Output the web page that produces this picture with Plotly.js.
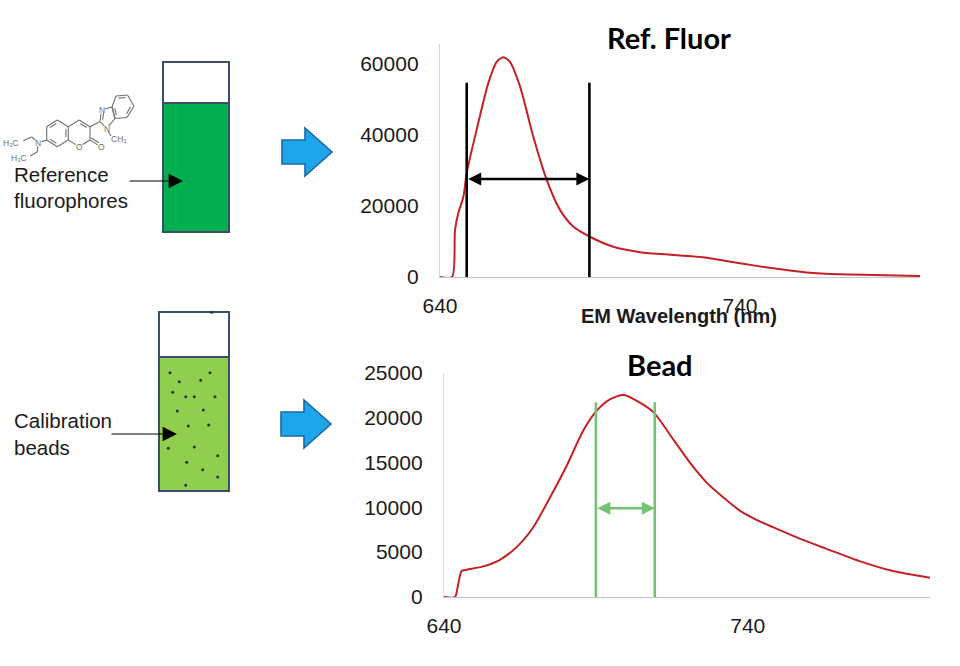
<!DOCTYPE html>
<html>
<head>
<meta charset="utf-8">
<script src="https://cdn.plot.ly/plotly-3.0.1.min.js"></script>
<style>
  html, body { margin: 0; padding: 0; background: #fff; }
  #chart { width: 960px; height: 666px; }
</style>
</head>
<body>
<div id="chart"></div>
<script>
// spectra (nm, counts)
const refWavelength = [640, 644, 645, 646.1, 647.8, 648.9, 652.2, 656.1, 658.9, 661.1, 663.3, 666.7, 671.1, 675.6, 680, 684.4, 689.8, 697.8, 706.7, 717.8, 728.9, 740, 751.1, 762.2, 773.3, 784.4, 800];
const refIntensity = [0, 0, 13200, 18000, 22600, 29300, 41400, 54600, 60600, 61900, 60600, 53600, 39500, 27300, 18900, 14200, 11400, 8500, 7000, 6200, 5450, 3850, 2450, 1300, 750, 560, 280];

const beadWavelength = [640, 643.6, 644.7, 645.8, 647.5, 652.9, 658.4, 663.9, 669.4, 674.9, 680.4, 685.8, 690.2, 694.6, 699.2, 704.5, 709.1, 715.4, 720.9, 726.4, 731.9, 737.4, 742.9, 748.3, 757.1, 765.9, 776.8, 787.8, 800];
const beadIntensity = [0, 0, 1490, 2890, 3040, 3410, 4150, 5560, 7780, 11100, 14630, 18520, 20740, 22040, 22520, 21670, 20550, 17600, 15000, 12780, 11110, 9630, 8600, 7780, 6500, 5370, 4000, 2890, 2150];

// width markers (nm) and where they sit (counts)
const refBand = [648.9, 689.8];
const refBandTop = 54700;
const refArrowAt = 27600;
const beadBand = [690, 709.4];
const beadBandTop = 21700;
const beadArrowAt = 9900;

// ticks
const xTicks = [640, 740];
const refTicks = [0, 20000, 40000, 60000];
const beadTicks = [0, 5000, 10000, 15000, 20000, 25000];

const chartTitles = ['Ref. Fluor', 'Bead'];
const xLabel = 'EM Wavelength (nm)';
const sideLabels = ['Reference', 'fluorophores', 'Calibration', 'beads'];

const W = 960, H = 666;
const px = v => v / W;
const py = v => 1 - v / H;

const RED = '#c42126';
const tickFont = { family: 'Liberation Sans, Arial, sans-serif', size: 21, color: '#1a1a1a' };

const traces = [
  {
    x: refWavelength, y: refIntensity, xaxis: 'x', yaxis: 'y',
    type: 'scatter', mode: 'lines',
    line: { color: RED, width: 2, shape: 'spline', smoothing: 0.7 },
    hoverinfo: 'skip'
  },
  {
    x: beadWavelength, y: beadIntensity, xaxis: 'x2', yaxis: 'y2',
    type: 'scatter', mode: 'lines',
    line: { color: RED, width: 2, shape: 'spline', smoothing: 0.7 },
    hoverinfo: 'skip'
  }
];

function xAxis(domain, anchor) {
  return {
    domain: domain, anchor: anchor, range: [640, 800],
    tickvals: xTicks, ticks: '', ticklabelstandoff: 10,
    showline: true, linecolor: '#c4c4c4', linewidth: 1.2,
    showgrid: false, zeroline: false, tickfont: tickFont, fixedrange: true
  };
}
function yAxis(domain, anchor, range, vals) {
  return {
    domain: domain, anchor: anchor, range: range,
    tickvals: vals, tickformat: 'd', ticks: '', ticklabelstandoff: 16,
    showline: true, linecolor: '#d6d6d6', linewidth: 1.2,
    showgrid: false, zeroline: false, tickfont: tickFont, fixedrange: true
  };
}

const shapes = [];
const annotations = [];

// band lines on the spectra
refBand.forEach(v => shapes.push({
  type: 'line', xref: 'x', yref: 'y', x0: v, x1: v, y0: 0, y1: refBandTop,
  line: { color: '#000', width: 2.6 }
}));
beadBand.forEach(v => shapes.push({
  type: 'line', xref: 'x2', yref: 'y2', x0: v, x1: v, y0: 0, y1: beadBandTop,
  line: { color: '#74c274', width: 2.6 }
}));
annotations.push({
  xref: 'x', yref: 'y', axref: 'x', ayref: 'y',
  x: refBand[1], y: refArrowAt, ax: refBand[0], ay: refArrowAt,
  text: '', showarrow: true, arrowside: 'end+start', arrowhead: 2,
  arrowsize: 1, arrowwidth: 2.6, arrowcolor: '#000'
});
annotations.push({
  xref: 'x2', yref: 'y2', axref: 'x2', ayref: 'y2',
  x: beadBand[1], y: beadArrowAt, ax: beadBand[0], ay: beadArrowAt,
  text: '', showarrow: true, arrowside: 'end+start', arrowhead: 2,
  arrowsize: 1, arrowwidth: 2.6, arrowcolor: '#74c274'
});

// titles
annotations.push({
  xref: 'paper', yref: 'paper', x: px(669), y: py(37), xanchor: 'center', yanchor: 'middle',
  text: '<b>' + chartTitles[0] + '</b>', showarrow: false,
  font: { family: 'Lato, Liberation Sans, sans-serif', size: 29, color: '#000' }
});
annotations.push({
  xref: 'paper', yref: 'paper', x: px(660), y: py(364), xanchor: 'center', yanchor: 'middle',
  text: '<b>' + chartTitles[1] + '</b>', showarrow: false,
  font: { family: 'Lato, Liberation Sans, sans-serif', size: 29, color: '#000' }
});
annotations.push({
  xref: 'paper', yref: 'paper', x: px(679), y: py(316), xanchor: 'center', yanchor: 'middle',
  text: '<b>' + xLabel + '</b>', showarrow: false,
  font: { family: 'Liberation Sans, Arial, sans-serif', size: 20, color: '#1a1a1a' }
});

// cuvettes
function rect(x0, y0, x1, y1, fill, lineColor, lw) {
  shapes.push({
    type: 'rect', xref: 'paper', yref: 'paper',
    x0: px(x0), x1: px(x1), y0: py(y1), y1: py(y0),
    fillcolor: fill, line: { color: lineColor, width: lw }
  });
}
rect(163, 62, 229, 232, '#ffffff', '#3d4c6b', 2);
rect(163, 103, 229, 232, '#00b050', '#3d4c6b', 2);
rect(159, 312, 229, 491, '#ffffff', '#3d4c6b', 2);
rect(159, 357, 229, 491, '#8fce4f', '#3d4c6b', 2);

const beadDots = [[170,372.7],[210,372.7],[179.3,381.7],[200.7,380.3],[172.7,392.3],[185.7,396.7],[194.3,396.7],[215,396.7],[177.3,411],[203.3,410],[188.3,426],[208.7,425],[168.3,448.3],[194.3,447],[217.7,455.7],[186.7,462.3],[202.7,469.7],[217.7,477],[185.7,485.3],[211.7,312.3]];
beadDots.forEach(d => shapes.push({
  type: 'circle', xref: 'paper', yref: 'paper',
  x0: px(d[0] - 1.5), x1: px(d[0] + 1.5), y0: py(d[1] + 1.5), y1: py(d[1] - 1.5),
  fillcolor: '#1e3b1e', line: { width: 0 }
}));

// blue block arrows
function pathOf(pts) {
  return 'M' + pts.map(p => px(p[0]) + ',' + py(p[1])).join(' L') + ' Z';
}
function blockArrow(x0, xm, x1, yc) {
  shapes.push({
    type: 'path', xref: 'paper', yref: 'paper',
    path: pathOf([[x0, yc - 12], [xm, yc - 12], [xm, yc - 24], [x1, yc], [xm, yc + 24], [xm, yc + 12], [x0, yc + 12]]),
    fillcolor: '#1ea5ea', line: { color: '#1769a8', width: 1.6 }
  });
}
blockArrow(282, 305, 332, 152);
blockArrow(281, 304, 331, 424);

// side labels with pointer arrows
const sideFont = { family: 'Liberation Sans, Arial, sans-serif', size: 20.5, color: '#1a1a1a' };
[[sideLabels[0], 174], [sideLabels[1], 200], [sideLabels[2], 420], [sideLabels[3], 447]].forEach(l => {
  annotations.push({
    xref: 'paper', yref: 'paper', x: px(12), y: py(l[1]), xanchor: 'left', yanchor: 'middle',
    text: l[0], showarrow: false, font: sideFont
  });
});
annotations.push({
  xref: 'paper', yref: 'paper', x: px(183), y: py(181), ax: -55, ay: 0,
  text: '', showarrow: true, arrowhead: 2, arrowsize: 2.4, arrowwidth: 1.2, arrowcolor: '#000'
});
annotations.push({
  xref: 'paper', yref: 'paper', x: px(177), y: py(434), ax: -67, ay: 0,
  text: '', showarrow: true, arrowhead: 2, arrowsize: 2.4, arrowwidth: 1.2, arrowcolor: '#000'
});

// structure sketch of the reference dye
const MOL = '#707070';
function bond(a, b, ta, tb) {
  ta = ta || 0; tb = tb || 0;
  const dx = b[0] - a[0], dy = b[1] - a[1], d = Math.hypot(dx, dy);
  const ux = dx / d, uy = dy / d;
  shapes.push({
    type: 'line', xref: 'paper', yref: 'paper',
    x0: px(a[0] + ux * ta), y0: py(a[1] + uy * ta),
    x1: px(b[0] - ux * tb), y1: py(b[1] - uy * tb),
    line: { color: MOL, width: 1.1 }
  });
}
function innerBond(a, b, c) {
  const off = 2.4, k = 0.2;
  const mx = (a[0] + b[0]) / 2, my = (a[1] + b[1]) / 2;
  const dx = c[0] - mx, dy = c[1] - my, d = Math.hypot(dx, dy);
  const ox = dx / d * off, oy = dy / d * off;
  bond([a[0] + (b[0] - a[0]) * k + ox, a[1] + (b[1] - a[1]) * k + oy],
       [b[0] + (a[0] - b[0]) * k + ox, b[1] + (a[1] - b[1]) * k + oy]);
}
function ring(pts) {
  for (let i = 0; i < pts.length; i++) bond(pts[i], pts[(i + 1) % pts.length]);
}
// coumarin core
const A = [[57.3, 120], [68.3, 126.7], [68.3, 140], [57.3, 146.7], [46.7, 140], [46.7, 126.7]];
const cA = [57.5, 133.3];
ring(A);
innerBond(A[5], A[0], cA); innerBond(A[1], A[2], cA); innerBond(A[3], A[4], cA);
const b1 = [79.3, 120], b2 = [90, 126.7], b3 = [90, 140], bO = [79.3, 146.7];
const cB = [79.3, 133.3];
bond(A[1], b1); bond(b1, b2); bond(b2, b3); bond(b3, bO, 0, 4); bond(bO, A[2], 4, 0);
innerBond(b1, b2, cB);
const oC = [101, 147];
bond(b3, oC, 0, 4);
bond([b3[0] + 1.2, b3[1] - 2.2], [oC[0] + 1.2 - 3.5, oC[1] - 2.2 - 2]);
// benzimidazole
const c2 = [100, 121.5], n3 = [101.5, 110], c3a = [112, 107], c7a = [115, 118.5], n1 = [106.5, 128.5];
bond(b2, c2); bond(c2, n3, 0, 3.5); bond(n3, c3a, 3.5, 0); bond(c3a, c7a); bond(c7a, n1, 0, 3.5); bond(n1, c2, 3.5, 0);
innerBond(c2, n3, [107, 117]);
const C = [c3a, [116, 96], [127.5, 95], [134, 106], [127, 117.5], c7a];
const cC = [123.5, 106.7];
ring(C);
innerBond(C[1], C[2], cC); innerBond(C[3], C[4], cC); innerBond(C[5], C[0], cC);
bond(n1, [111, 136], 3.5, 0);
// diethylamino
const nA = [38.3, 142.7];
bond(A[4], nA, 0, 3.5);
bond(nA, [31.7, 137], 3.5, 0); bond([31.7, 137], [21.5, 141.5], 0, 2);
bond(nA, [37.3, 151.7], 3.5, 0); bond([37.3, 151.7], [28.5, 157], 0, 2);

function atom(t, p, anchor) {
  annotations.push({
    xref: 'paper', yref: 'paper', x: px(p[0]), y: py(p[1]),
    xanchor: anchor || 'center', yanchor: 'middle', text: t, showarrow: false,
    font: { family: 'Liberation Sans, Arial, sans-serif', size: 8.5, color: MOL }
  });
}
atom('O', bO); atom('O', oC); atom('N', n3); atom('N', n1); atom('N', nA);
atom('CH₃', [109, 139.5], 'left');
atom('H₃C', [21, 142.7], 'right');
atom('H₃C', [28.5, 158.3], 'right');

const layout = {
  width: W, height: H,
  margin: { l: 0, r: 0, t: 0, b: 0 },
  paper_bgcolor: '#ffffff', plot_bgcolor: 'rgba(0,0,0,0)',
  showlegend: false,
  xaxis: xAxis([px(440), px(920)], 'y'),
  yaxis: yAxis([py(277), py(44)], 'x', [0, 65600], refTicks),
  xaxis2: xAxis([px(444), px(930)], 'y2'),
  yaxis2: yAxis([py(597), py(372.7)], 'x2', [0, 25000], beadTicks),
  shapes: shapes,
  annotations: annotations
};

Plotly.newPlot('chart', traces, layout, { displayModeBar: false, staticPlot: true });
</script>
</body>
</html>
